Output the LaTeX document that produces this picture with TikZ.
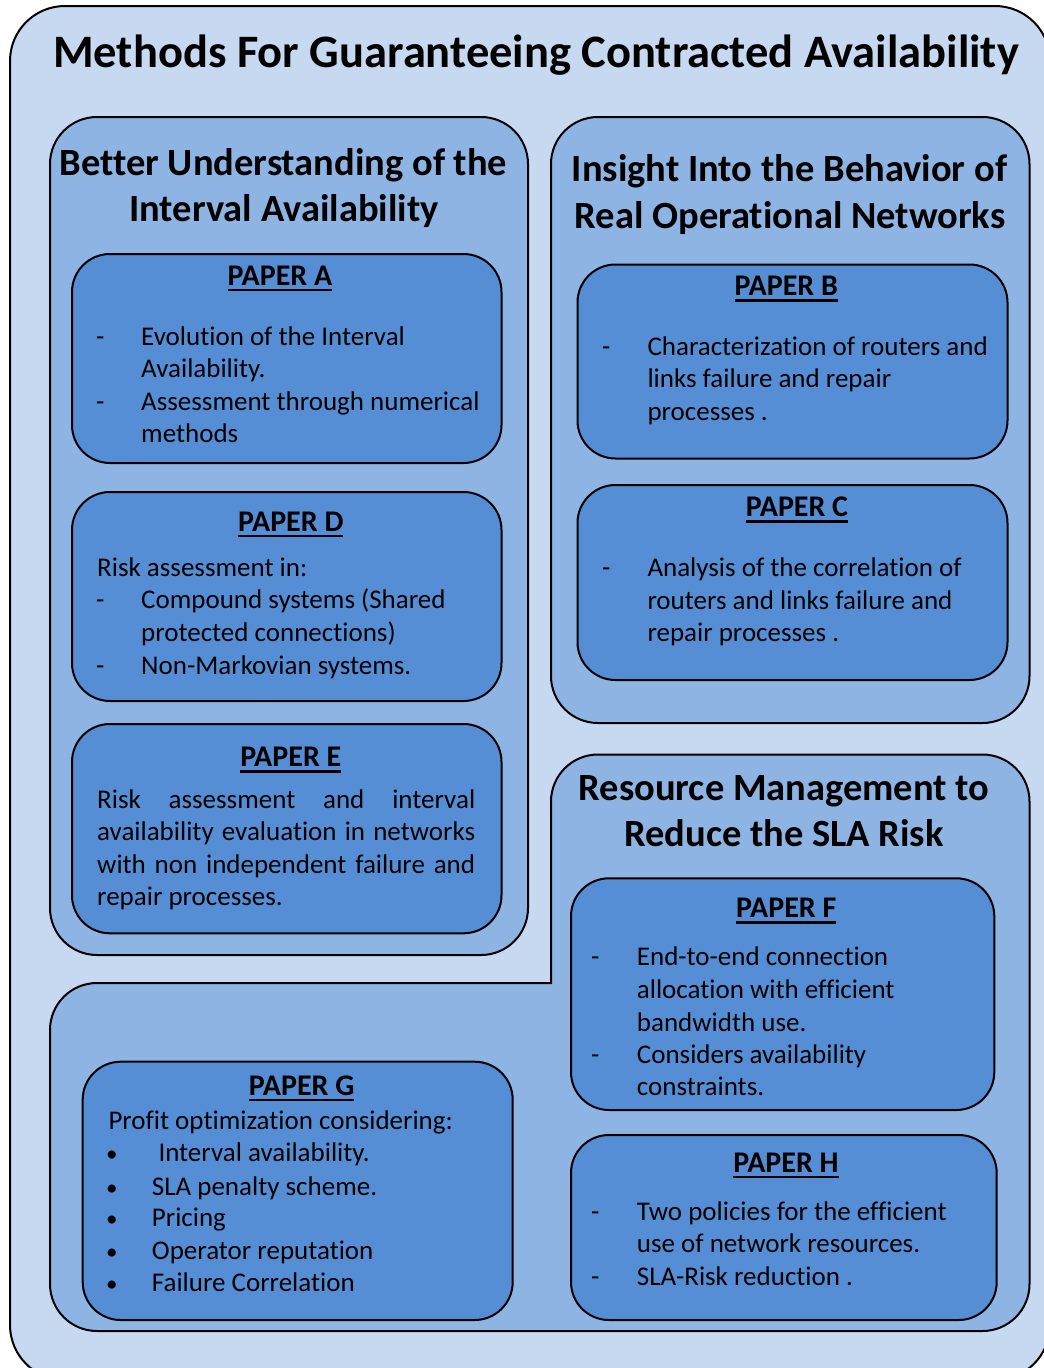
\documentclass[tikz,border=0pt]{standalone}
\usepackage{fontspec}
\setmainfont{Carlito}[Ligatures={TeX,NoCommon}]

\definecolor{outerfill}{HTML}{C6D9F1}
\definecolor{groupfill}{HTML}{8EB4E3}
\definecolor{paperfill}{HTML}{558ED5}

% bold heading with a thick rule under it
\newcommand\headul[1]{\setbox0\hbox{#1}\rlap{\rule[-6pt]{\wd0}{2.5pt}}\box0}
% a line stretched to a given width (justified text)
\newcommand\jline[2]{\makebox[#1][s]{#2}}

\begin{document}
\begin{tikzpicture}[x=1pt, y=-1pt, line join=round]
\tikzset{
  outerbox/.style={draw=black, line width=2pt, fill=outerfill, rounded corners=55pt},
  groupbox/.style={draw=black, line width=2pt, fill=groupfill, rounded corners=47pt},
  paperbox/.style={draw=black, line width=2pt, fill=paperfill, rounded corners=38pt},
  maintitle/.style={font=\fontsize{46.5}{56}\selectfont\bfseries, anchor=base, inner sep=0pt},
  grouptitle/.style={font=\fontsize{38.5}{47}\selectfont\bfseries, anchor=base, inner sep=0pt},
  paperhead/.style={font=\fontsize{30}{36}\selectfont\bfseries, anchor=base, inner sep=0pt},
  body/.style={font=\fontsize{27}{32.6}\selectfont, anchor=base west, inner sep=0pt},
  bulletmark/.style={font=\fontsize{23}{28}\selectfont, anchor=base west, inner sep=0pt},
}
\useasboundingbox (0,0) rectangle (1044,1368);
\clip (0,0) rectangle (1044,1368);

% outer frame and title
\draw[outerbox] (10,6) rectangle (1050,1380);
\node[maintitle] (title) at (536,67.7) {Methods For Guaranteeing Contracted Availability};

% ---------- group 1: interval availability ----------
\draw[groupbox] (50,117) rectangle (528,955);
\node[grouptitle] (g1a) at (283.5,175) {Better Understanding of the};
\node[grouptitle] (g1b) at (284,221.7) {Interval Availability};

% paper A
\draw[paperbox] (72,254) rectangle (501.5,463);
\node[paperhead] (pa) at (280,285) {\headul{PAPER A}};
\node[body] (pa1d) at (96,345) {-};
\node[body] (pa1) at (141,345) {Evolution of the Interval};
\node[body] (pa2) at (141,377.6) {Availability.};
\node[body] (pa3d) at (96,410.2) {-};
\node[body] (pa3) at (141,410.2) {Assessment through numerical};
\node[body] (pa4) at (141,442.8) {methods};

% paper D
\draw[paperbox] (72,492) rectangle (501.5,701);
\node[paperhead] (pd) at (290.8,531.3) {\headul{PAPER D}};
\node[body] (pd1) at (97,576.3) {Risk assessment in:};
\node[body] (pd2d) at (96,608.7) {-};
\node[body] (pd2) at (141,608.7) {Compound systems (Shared};
\node[body] (pd3) at (141,641.3) {protected connections)};
\node[body] (pd4d) at (96,674) {-};
\node[body] (pd4) at (141,674) {Non-Markovian systems.};

% paper E
\draw[paperbox] (72,724) rectangle (501.5,933.3);
\node[paperhead] (pe) at (290.8,766.7) {\headul{PAPER E}};
\node[body] (pe1) at (97,808.3) {\jline{378pt}{Risk assessment and interval}};
\node[body] (pe2) at (97,840.7) {\jline{378pt}{availability evaluation in networks}};
\node[body] (pe3) at (97,873.3) {\jline{378pt}{with non independent failure and}};
\node[body] (pe4) at (97,905.7) {repair processes.};

% ---------- group 2: operational networks ----------
\draw[groupbox] (551,117) rectangle (1029.5,723);
\node[grouptitle] (g2a) at (789.5,181.7) {Insight Into the Behavior of};
\node[grouptitle] (g2b) at (790,228.3) {Real Operational Networks};

% paper B
\draw[paperbox] (577.5,264.5) rectangle (1007.5,458.5);
\node[paperhead] (pb) at (786.3,295.7) {\headul{PAPER B}};
\node[body] (pb1d) at (602,355) {-};
\node[body] (pb1) at (647.3,355) {Characterization of routers and};
\node[body] (pb2) at (647.3,387.3) {links failure and repair};
\node[body] (pb3) at (647.3,420) {processes .};

% paper C
\draw[paperbox] (577.5,485) rectangle (1007.5,680);
\node[paperhead] (pc) at (797,516.7) {\headul{PAPER C}};
\node[body] (pc1d) at (602,576.7) {-};
\node[body] (pc1) at (647.3,576.7) {Analysis of the correlation of};
\node[body] (pc2) at (647.3,609) {routers and links failure and};
\node[body] (pc3) at (647.3,641.7) {repair processes .};

% ---------- group 3: resource management (L-shaped) ----------
\draw[groupbox, line cap=rect] (551,983) -- (551,754.5) -- (1029.5,754.5)
  -- (1029.5,1331) -- (50,1331) -- (50,983) -- (551,983);
\node[grouptitle] (g3a) at (784,800) {Resource Management to};
\node[grouptitle] (g3b) at (784,846.7) {Reduce the SLA Risk};

% paper F
\draw[paperbox] (571,878.3) rectangle (994.3,1110);
\node[paperhead] (pf) at (786.3,917.7) {\headul{PAPER F}};
\node[body] (pf1d) at (591,965.7) {-};
\node[body] (pf1) at (636.7,965.7) {End-to-end connection};
\node[body] (pf2) at (636.7,998.3) {allocation with efficient};
\node[body] (pf3) at (636.7,1031) {bandwidth use.};
\node[body] (pf4d) at (591,1063.3) {-};
\node[body] (pf4) at (636.7,1063.3) {Considers availability};
\node[body] (pf5) at (636.7,1095.7) {constraints.};

% paper H
\draw[paperbox] (571,1135) rectangle (996.7,1320);
\node[paperhead] (ph) at (786,1172.3) {\headul{PAPER H}};
\node[body] (ph1d) at (591,1220) {-};
\node[body] (ph1) at (636.7,1220) {Two policies for the efficient};
\node[body] (ph2) at (636.7,1252.3) {use of network resources.};
\node[body] (ph3d) at (591,1285.7) {-};
\node[body] (ph3) at (636.7,1285.7) {SLA-Risk reduction .};

% paper G
\draw[paperbox] (82.7,1061.7) rectangle (512.7,1320);
\node[paperhead] (pg) at (301.7,1095) {\headul{PAPER G}};
\node[body] (pg0) at (108.3,1129) {Profit optimization considering:};
\node[bulletmark] (pg1b) at (106,1161.7) {•};
\node[body] (pg1) at (158.3,1161.7) {Interval availability.};
\node[bulletmark] (pg2b) at (106,1195) {•};
\node[body] (pg2) at (151.7,1195) {SLA penalty scheme.};
\node[bulletmark] (pg3b) at (106,1226.7) {•};
\node[body] (pg3) at (151.7,1226.7) {Pricing};
\node[bulletmark] (pg4b) at (106,1259.3) {•};
\node[body] (pg4) at (151.7,1259.3) {Operator reputation};
\node[bulletmark] (pg5b) at (106,1291.7) {•};
\node[body] (pg5) at (151.7,1291.7) {Failure Correlation};
\end{tikzpicture}
\end{document}
